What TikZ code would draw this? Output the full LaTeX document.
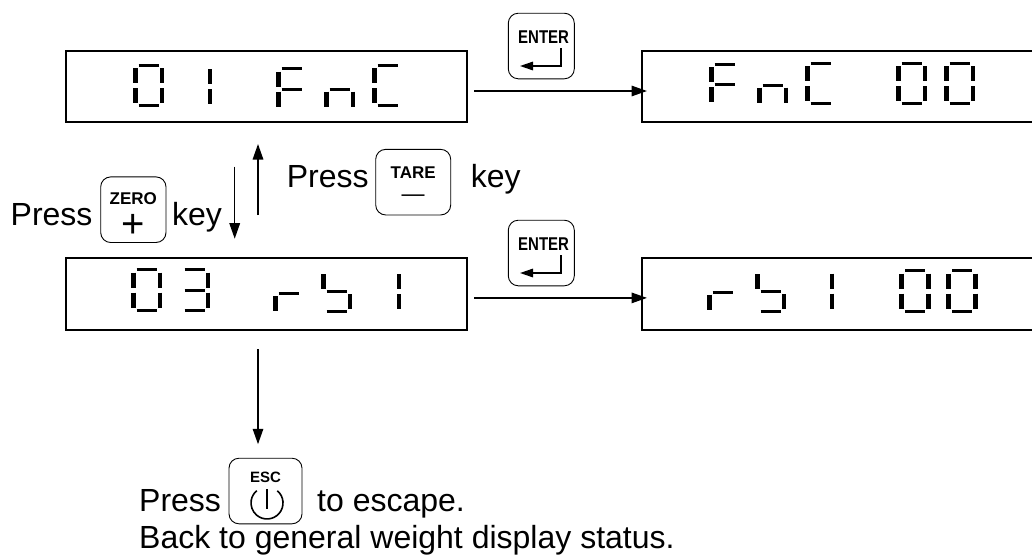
\documentclass[tikz,border=0pt]{standalone}
\usepackage{fontspec}
\usepackage{graphicx}
\setmainfont{Liberation Sans}
\usetikzlibrary{arrows.meta, positioning, calc}
\tikzset{
  display/.style={
    rectangle, draw=black, line width=2pt, minimum width=401pt, minimum height=71.5pt, inner sep=0pt
  },
  keycap/.style={
    rectangle, draw=black, line width=0.9pt, rounded corners=10pt, minimum height=65.6pt, inner sep=0pt
  },
  keytext/.style={font=\bfseries\fontsize{17}{17}\selectfont, inner sep=0pt},
  caption/.style={font=\fontsize{32}{32}\selectfont, anchor=base west, inner sep=0pt},
  flow/.style={-{Triangle[length=15.5pt,width=10.5pt]}, line width=1.5pt},
  hseg/.style={line width=3pt},
  vseg/.style={line width=4.8pt}
}
% seven segments of one digit, origin at its top left
\newcommand{\segA}{\draw[hseg] (5.5,1.4) -- (25.5,1.4);}
\newcommand{\segB}{\draw[vseg] (29,4) -- (29,19);}
\newcommand{\segC}{\draw[vseg] (29,24) -- (29,39);}
\newcommand{\segD}{\draw[hseg] (5.5,41.6) -- (25.5,41.6);}
\newcommand{\segE}{\draw[vseg] (2.2,24) -- (2.2,39);}
\newcommand{\segF}{\draw[vseg] (2.2,4) -- (2.2,19);}
\newcommand{\segG}{\draw[hseg] (5.5,21.5) -- (25.5,21.5);}
\newcommand{\digit}[3]{\begin{scope}[shift={(#1,#2)}]#3\end{scope}}
\newcommand{\zero}{\segA\segB\segC\segD\segE\segF}
\newcommand{\one}{\segB\segC}
\newcommand{\three}{\segA\segB\segC\segD\segG}
\newcommand{\five}{\segF\segG\segC\segD}
\newcommand{\letF}{\segA\segE\segF\segG}
\newcommand{\letn}{\segC\segE\segG}
\newcommand{\letC}{\segA\segD\segE\segF}
\newcommand{\letr}{\segE\segG}
% ENTER key with its return arrow
\newcommand{\enterkey}[3]{
  \node[keycap, minimum width=66pt] (#1) at (#2,#3) {};
  \node[keytext, font=\bfseries\fontsize{18.5}{18.5}\selectfont, yshift=9.3pt, xshift=2.3pt] (#1text) at (#1.center) {\scalebox{0.81}[1]{ENTER}};
  \draw[line width=1.5pt, -{Triangle[length=13pt,width=8.5pt]}] ([shift={(19.7,2.3)}]#1.center) |- ([shift={(-21.3,20)}]#1.center);
}

\begin{document}
\begin{tikzpicture}[x=1pt, y=-1pt]
\useasboundingbox (0,0) rectangle (1032,555);

% Displays
\node[display] (fncsel) at (266.5,86.25) {};
\node[display, minimum width=394pt, right=173pt of fncsel] (fncval) {};
\node[display, below=134.3pt of fncsel] (rblsel) {};
\node[display, minimum width=394pt, right=173pt of rblsel] (rblval) {};

% Digits
\digit{133}{64}{\zero}
\digit{181}{65}{\one}
\digit{276}{67.5}{\letF}
\digit{324}{67.5}{\letn}
\digit{372}{64}{\letC}

\digit{709}{63}{\letF}
\digit{757}{63.5}{\letn}
\digit{805}{62}{\letC}
\digit{896}{62}{\zero}
\digit{944}{62}{\zero}

\digit{131}{268.5}{\zero}
\digit{179}{268.5}{\three}
\digit{273}{272}{\letr}
\digit{321}{270}{\five}
\digit{370}{270}{\one}

\digit{707}{270.5}{\letr}
\digit{755}{270}{\five}
\digit{803}{269.5}{\one}
\digit{899.5}{269.5}{\zero}
\digit{946.5}{269.5}{\zero}

% Enter keys
\enterkey{enterfnc}{541.3}{46}
\enterkey{enterrbl}{541.3}{253}

% Zero and tare keys
\node[keycap, minimum width=65.3pt] (zerokey) at (133.35,209.7) {};
\node[keytext] (zerotext) at ([yshift=10.7pt]zerokey.center) {ZERO};
\node[inner sep=0pt, font=\fontsize{40}{40}\selectfont] (zeroplus) at ([yshift=-16pt]zerokey.center) {+};
\node[keycap, minimum width=75pt] (tarekey) at (413.2,182.15) {};
\node[keytext] (taretext) at ([yshift=9.8pt]tarekey.center) {TARE};
\node[inner sep=0pt, font=\fontsize{23}{23}\selectfont] (tareminus) at ([yshift=-16pt]tarekey.center) {—};

% Esc key
\node[keycap, minimum width=73pt] (esckey) at (265.5,491) {};
\node[keytext, font=\bfseries\fontsize{15}{15}\selectfont] (esctext) at ([yshift=13.5pt]esckey.center) {ESC};
\draw[line width=2.4pt] ([shift={(1.5,-2)}]esckey.center) -- ([shift={(1.5,18)}]esckey.center);
\draw[line width=1.6pt] ([shift={(11.8,-0.3)}]esckey.center) arc[start angle=50, delta angle=-280, radius=16pt];

% Labels
\node[caption] (pressleft) at (10.5,225) {Press};
\node[caption] (keyleft) at (172,225) {key};
\node[caption] (pressright) at (286.7,187.3) {Press};
\node[caption] (keyright) at (470.6,187.3) {key};
\node[caption] (pressesc) at (139,511.7) {Press};
\node[caption] (toescape) at (317,511.7) {to escape.};
\node[caption] (backnote) at (139,548) {Back to general weight display status.};

% Arrows
\draw[flow] ([shift={(6,4.75)}]fncsel.east) -- ([shift={(6,4.75)}]fncsel.east -| fncval.west);
\draw[flow] ([shift={(6,3.85)}]rblsel.east) -- ([shift={(6,3.85)}]rblsel.east -| rblval.west);
\draw[flow] ([shift={(-31.8,-90.6)}]rblsel.north) -- ([shift={(-31.8,-18.6)}]rblsel.north);
\draw[flow] ([shift={(-8.5,92)}]fncsel.south) -- ([shift={(-8.5,21)}]fncsel.south);
\coordinate (escend) at ([xshift=-7.5pt, yshift=13.5pt]esckey.north);
\draw[flow] ([shift={(-8.5,18.3)}]rblsel.south) -- (escend);

\end{tikzpicture}
\end{document}
